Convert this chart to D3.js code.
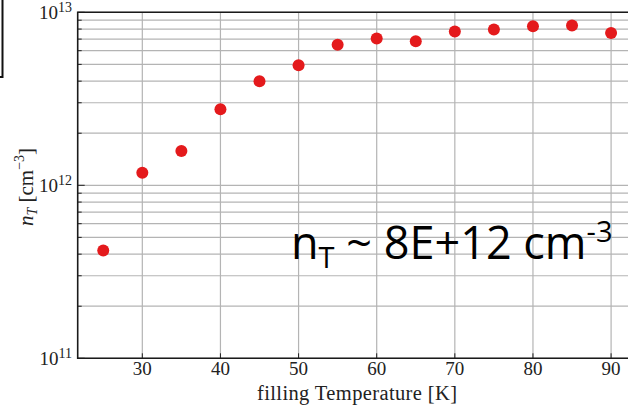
<!DOCTYPE html>
<html>
<head>
<meta charset="utf-8">
<script src="https://cdn.jsdelivr.net/npm/d3@7"></script>
<style>
  html, body { margin: 0; padding: 0; background: #fff; }
  svg { display: block; }
</style>
</head>
<body>
<svg id="chart" width="628" height="409"></svg>
<script>
// filling temperature [K] and measured trap density n_T [cm^-3]
const temperatures = [25, 30, 35, 40, 45, 50, 55, 60, 65, 70, 75, 80, 85, 90];
const densities = [4.2e11, 1.18e12, 1.58e12, 2.75e12, 4.0e12, 4.95e12, 6.5e12, 7.05e12, 6.8e12, 7.75e12, 7.95e12, 8.3e12, 8.4e12, 7.6e12];
const xTicks = [30, 40, 50, 60, 70, 80, 90];
const yMajorExps = [11, 12, 13];
const annotation = { main: "n", sub: "T", rest: " ~ 8E+12 cm", sup: "-3" };

const svg = d3.select("#chart");
const plot = { left: 77.7, right: 640, top: 12.3, bottom: 358.3 };

const x = d3.scaleLinear().domain([21.73, 93.7]).range([plot.left, plot.right]);
const y = d3.scaleLog().domain([1e11, 1e13]).range([plot.bottom, plot.top]);

// minor decade values 1..9 × 10^k
const yGrid = [];
for (const e of [11, 12]) for (let m = 1; m <= 9; m++) yGrid.push(m * Math.pow(10, e));
yGrid.push(1e13);

const grid = svg.append("g").attr("stroke", "#b4b4b4").attr("stroke-width", 1.2);
grid.selectAll("line.h").data(yGrid).join("line")
  .attr("x1", plot.left).attr("x2", plot.right)
  .attr("y1", d => y(d)).attr("y2", d => y(d));
grid.selectAll("line.v").data(xTicks).join("line")
  .attr("x1", d => x(d)).attr("x2", d => x(d))
  .attr("y1", plot.top).attr("y2", plot.bottom);

// inward tick marks on the left and bottom edges
const ticks = svg.append("g").attr("stroke", "#222").attr("stroke-width", 1);
ticks.selectAll("line.yt").data(yGrid).join("line")
  .attr("x1", plot.left).attr("x2", d => plot.left + (yMajorExps.some(e => Math.pow(10, e) === d) ? 7 : 4))
  .attr("y1", d => y(d)).attr("y2", d => y(d));
ticks.selectAll("line.xt").data(xTicks).join("line")
  .attr("x1", d => x(d)).attr("x2", d => x(d))
  .attr("y1", plot.bottom).attr("y2", plot.bottom - 5);

// frame
svg.append("path")
  .attr("d", `M${plot.right},${plot.top}H${plot.left}V${plot.bottom}H${plot.right}`)
  .attr("fill", "none").attr("stroke", "#1a1a1a").attr("stroke-width", 1.6);

// corner of a neighbouring box at the top left
svg.append("path")
  .attr("d", "M2.5,0V77H-2")
  .attr("fill", "none").attr("stroke", "#111").attr("stroke-width", 2);

// data points
svg.append("g").selectAll("circle").data(temperatures).join("circle")
  .attr("cx", d => x(d))
  .attr("cy", (d, i) => y(densities[i]))
  .attr("r", 6)
  .attr("fill", "#e41a1c");

const serif = "'Liberation Serif', 'DejaVu Serif', serif";

// x tick labels
svg.append("g").selectAll("text").data(xTicks).join("text")
  .attr("x", d => x(d)).attr("y", 375)
  .attr("text-anchor", "middle")
  .attr("font-family", serif).attr("font-size", 19).attr("fill", "#222")
  .text(d => d);

// y tick labels 10^k
const yl = svg.append("g").selectAll("text").data(yMajorExps).join("text")
  .attr("x", 72).attr("y", d => y(Math.pow(10, d)) + 7)
  .attr("text-anchor", "end")
  .attr("font-family", serif).attr("font-size", 19).attr("fill", "#222");
yl.append("tspan").text("10");
yl.append("tspan").attr("dy", -7).attr("font-size", 14).text(d => d);

// axis titles
svg.append("text")
  .attr("x", 357).attr("y", 400)
  .attr("text-anchor", "middle")
  .attr("font-family", serif).attr("font-size", 20.5).attr("fill", "#222")
  .attr("textLength", 200).attr("lengthAdjust", "spacing")
  .text("filling Temperature [K]");

const yt = svg.append("text")
  .attr("transform", "translate(33,187) rotate(-90)")
  .attr("text-anchor", "middle")
  .attr("font-family", serif).attr("font-size", 21).attr("fill", "#222");
yt.append("tspan").attr("font-style", "italic").text("n");
yt.append("tspan").attr("font-style", "italic").attr("font-size", 14).attr("dy", 4).text("T");
yt.append("tspan").attr("dy", -4).text(" [cm");
yt.append("tspan").attr("font-size", 14).attr("dy", -9).text("\u22123");
yt.append("tspan").attr("dy", 9).text("]");

// annotation
const ann = svg.append("text")
  .attr("x", 291).attr("y", 259)
  .attr("font-family", "'Open Sans', 'Liberation Sans', sans-serif")
  .attr("font-size", 45).attr("fill", "#000");
ann.append("tspan").text(annotation.main);
ann.append("tspan").attr("font-size", 29).attr("dy", 9).text(annotation.sub);
ann.append("tspan").attr("dy", -9).text(annotation.rest);
ann.append("tspan").attr("font-size", 29).attr("dy", -17).text(annotation.sup);
</script>
</body>
</html>
